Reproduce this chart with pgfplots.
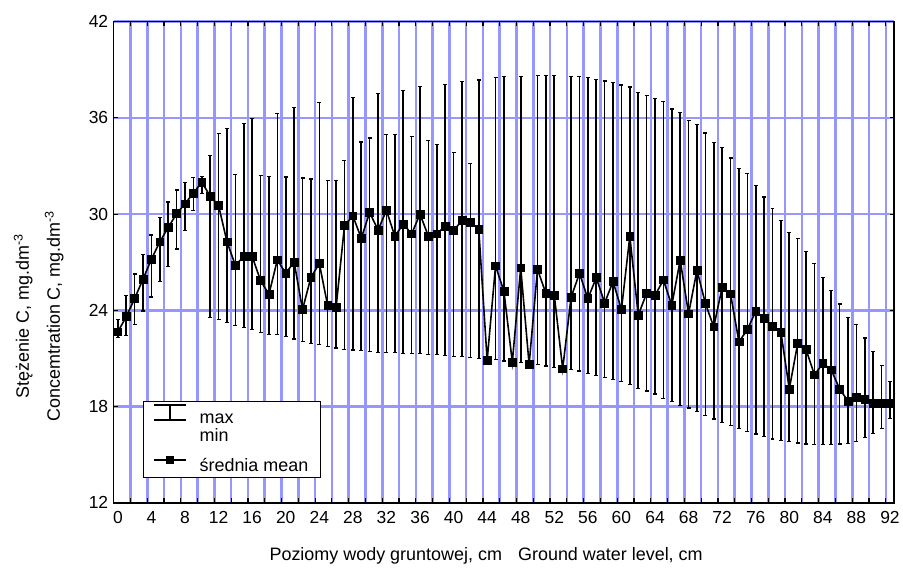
\documentclass[border=0pt]{standalone}
\usepackage{fontspec}
\setmainfont{Liberation Sans}
\usepackage{pgfplots}
\pgfplotsset{compat=1.18}
\usepackage{pgfplotstable}
\definecolor{gridblue}{RGB}{150,150,255}

\pgfplotstableread{
x m lo hi
0 22.67 22.32 23.45
1 23.61 22.42 24.93
2 24.74 23.14 26.27
3 25.96 23.96 27.50
4 27.19 24.83 28.70
5 28.28 25.81 29.79
6 29.17 26.74 30.75
7 30.03 27.83 31.51
8 30.65 29.00 31.99
9 31.31 30.24 32.26
10 31.99 31.30 32.36
11 31.12 23.55 33.63
12 30.53 23.41 35.03
13 28.28 23.24 35.32
14 26.80 23.08 32.46
15 27.36 22.93 35.63
16 27.36 22.83 35.94
17 25.86 22.63 32.40
18 25.00 22.50 32.37
19 27.15 22.48 36.29
20 26.31 22.35 32.31
21 27.02 22.21 36.66
22 24.05 22.07 32.25
23 26.06 21.96 32.19
24 26.92 21.86 36.96
25 24.30 21.76 32.11
26 24.18 21.66 32.11
27 29.28 21.57 33.32
28 29.89 21.53 37.27
29 28.50 21.49 34.50
30 30.10 21.43 34.75
31 29.01 21.39 37.52
32 30.24 21.37 34.98
33 28.62 21.35 34.98
34 29.38 21.33 37.72
35 28.77 21.33 34.85
36 30.00 21.29 37.97
37 28.62 21.23 34.57
38 28.77 21.23 34.36
39 29.24 21.18 38.09
40 28.97 21.14 33.83
41 29.61 21.12 38.25
42 29.48 21.04 33.17
43 29.07 21.02 38.36
44 20.88 20.88 20.88
45 26.78 20.92 38.50
46 25.18 20.84 38.56
47 20.77 20.77 20.77
48 26.66 20.77 38.60
49 20.63 20.63 20.63
50 26.55 20.63 38.62
51 25.06 20.53 38.62
52 24.93 20.43 38.62
53 20.36 20.36 20.36
54 24.81 20.30 38.60
55 26.31 20.22 38.58
56 24.73 20.06 38.54
57 26.04 19.96 38.40
58 24.46 19.81 38.30
59 25.80 19.69 38.19
60 24.05 19.55 38.05
61 28.62 19.38 37.93
62 23.70 19.14 37.58
63 25.06 18.97 37.41
64 24.93 18.79 37.23
65 25.90 18.52 37.02
66 24.32 18.31 36.55
67 27.13 18.07 36.35
68 23.79 17.91 35.84
69 26.51 17.70 35.59
70 24.44 17.44 35.06
71 22.97 17.23 34.46
72 25.43 17.02 34.16
73 25.03 16.84 33.50
74 22.04 16.64 32.82
75 22.80 16.43 32.51
76 23.93 16.29 31.79
77 23.52 16.14 31.07
78 23.00 15.98 30.35
79 22.65 15.88 29.59
80 19.10 15.82 28.85
81 21.93 15.73 28.46
82 21.56 15.67 27.68
83 19.98 15.63 26.90
84 20.70 15.63 26.04
85 20.29 15.63 25.22
86 19.10 15.67 24.40
87 18.34 15.70 23.58
88 18.57 15.82 23.13
89 18.45 16.10 22.28
90 18.20 16.30 21.42
91 18.20 16.64 20.57
92 18.20 17.25 19.55
}\datatable

\begin{document}
\begin{tikzpicture}[x=1bp,y=1bp]
\path (0,0) rectangle (903,570);
\begin{axis}[
  at={(114bp,65.7bp)}, anchor=south west,
  scale only axis, width=782.7bp, height=482.6bp,
  xmin=-0.5, xmax=92.5, ymin=12, ymax=42,
  xtick={0,4,...,92}, ytick={12,18,...,42},
  minor xtick={1.5,3.5,...,91.5},
  xmajorgrids=false, xminorgrids=true, ymajorgrids=true,
  major grid style={gridblue, line width=2.6bp},
  minor grid style={gridblue, line width=2.6bp},
  tick align=inside, xtick pos=both, ytick pos=both,
  major tick length=4.5bp, minor tick length=4.5bp,
  every major x tick/.append style={draw=none},
  every tick/.append style={black, line width=1.2bp},
  axis line style={black, line width=1.6bp},
  tick label style={font=\fontsize{17.5bp}{21bp}\selectfont},
  /pgf/number format/assume math mode=true,
  xticklabel style={yshift=-5bp},
  yticklabel style={xshift=-2bp},
  legend style={at={(0.037,0.212)}, anchor=north west, draw=black, line width=1.2bp,
    fill=white, font=\fontsize{18bp}{21bp}\selectfont, inner xsep=10bp, inner ysep=3bp,
    row sep=0bp, column sep=11bp},
  legend cell align=left,
]
\addlegendimage{legend image code/.code={
  \draw[black, line width=1.5bp] (0bp,14bp)--(32bp,14bp) (16bp,14bp)--(16bp,-1bp) (0bp,-1bp)--(32bp,-1bp);}}
\addlegendentry{max}
\addlegendimage{empty legend}
\addlegendentry{min}
\addplot[black, line width=1.6bp, mark=square*, mark size=3.9bp,
  mark options={solid, fill=black, line width=0.6bp},
  legend image code/.code={
    \draw[mark repeat=2, mark phase=2] plot coordinates {(0bp,0bp) (16bp,0bp) (32bp,0bp)};},
  error bars/.cd, y dir=both, y explicit,
  error bar style={line width=1.6bp, black},
  error mark options={rotate=90, mark size=2bp, line width=1.2bp, black}]
  table[x=x, y=m, y error plus expr=\thisrow{hi}-\thisrow{m},
        y error minus expr=\thisrow{m}-\thisrow{lo}] {\datatable};
\addlegendentry{\rule{0pt}{24bp}średnia mean}
\end{axis}
\node[font=\fontsize{18bp}{21bp}\selectfont, anchor=base] at (487.5,8)
  {Poziomy wody gruntowej, cm\hspace{0.9em}Ground water level, cm};
\node[font=\fontsize{18bp}{21bp}\selectfont, anchor=base, rotate=90] at (29,253)
  {Stężenie C, mg.dm\textsuperscript{-3}};
\node[font=\fontsize{18bp}{21bp}\selectfont, anchor=base, rotate=90] at (60,253)
  {Concemtration C, mg.dm\textsuperscript{-3}};
\end{tikzpicture}
\end{document}
